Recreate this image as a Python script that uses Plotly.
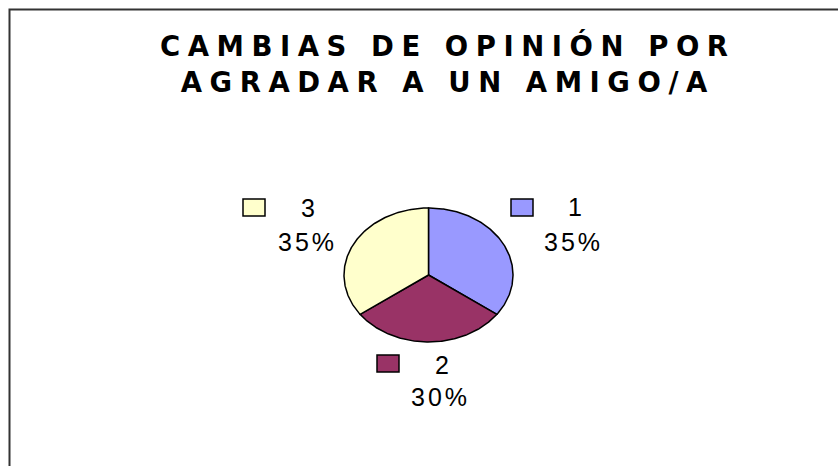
import numpy as np
import plotly.graph_objects as go

# ---- data ----
categories = ["1", "2", "3"]
values = [35, 30, 35]
colors = ["#9999FF", "#993366", "#FFFFCC"]
title_lines = ["CAMBIAS DE OPINIÓN POR", "AGRADAR A UN AMIGO/A"]

# ---- layout geometry (pixels, from top-left) ----
W, H = 838, 466
CX, CY = 428.5, 275.0
RX, RY = 84.5, 67.0


def px(x):
    return x / W


def py(y):
    return 1 - y / H


fig = go.Figure()
total = float(sum(values))
start = 90.0
for cat, v, c in zip(categories, values, colors):
    sweep = 360.0 * v / total
    th = np.radians(np.linspace(start, start - sweep, 150))
    xs = np.concatenate([[0.0], np.cos(th), [0.0]])
    ys = np.concatenate([[0.0], np.sin(th), [0.0]])
    fig.add_trace(go.Scatter(
        x=xs, y=ys, mode="lines", fill="toself", fillcolor=c,
        line=dict(color="black", width=1.5), hoverinfo="skip",
        showlegend=False, name=cat))
    start -= sweep

# label placement (pixels)
label_pos = {
    "1": dict(box=(511, 199), name=(575, 207), pct=(572, 242)),
    "2": dict(box=(377, 355), name=(441.5, 365), pct=(439, 397)),
    "3": dict(box=(243, 199), name=(308, 208), pct=(306, 242)),
}
BW, BH = 22, 17
LS = 3
annotations = []
shapes = []
for cat, v, c in zip(categories, values, colors):
    p = label_pos[cat]
    bx, by = p["box"]
    shapes.append(dict(type="rect", xref="paper", yref="paper",
                       x0=px(bx), x1=px(bx + BW), y0=py(by + BH), y1=py(by),
                       fillcolor=c, line=dict(color="black", width=1.5)))
    pct = f"{round(100 * v / total):d}%"
    for txt, (tx, ty) in ((cat, p["name"]), (pct, p["pct"])):
        annotations.append(dict(
            text=f"<span style='letter-spacing:{LS}px'>{txt}</span>",
            xref="paper", yref="paper", x=px(tx + LS / 2), y=py(ty),
            xanchor="center", yanchor="middle", showarrow=False,
            font=dict(family="Liberation Sans, Arial", size=25, color="black")))

# chart border (top and left edges visible)
shapes.append(dict(type="path", xref="paper", yref="paper",
                   path=f"M {px(9.5)},{py(H + 5)} L {px(9.5)},{py(9.5)} L {px(W + 5)},{py(9.5)}",
                   line=dict(color="#333333", width=2)))

TLS = 7.55
title_text = "<br>".join(
    f"<b><span style='letter-spacing:{TLS}px'>{l}</span></b>" for l in title_lines)

fig.update_layout(
    width=W, height=H, autosize=False,
    margin=dict(l=0, r=0, t=0, b=0, pad=0),
    paper_bgcolor="white", plot_bgcolor="white",
    title=dict(text=title_text, x=px(444 + TLS / 2), xref="paper", xanchor="center",
               y=py(56), yref="container", yanchor="top",
               font=dict(family="DejaVu Sans", size=27.5, color="black", weight="bold")),
    xaxis=dict(range=[-CX / RX, (W - CX) / RX], visible=False, fixedrange=True),
    yaxis=dict(range=[-(H - CY) / RY, CY / RY], visible=False, fixedrange=True),
    shapes=shapes, annotations=annotations,
)

fig.write_html("out.html", config={"displayModeBar": False},
               post_script="document.body.style.margin='0';")
